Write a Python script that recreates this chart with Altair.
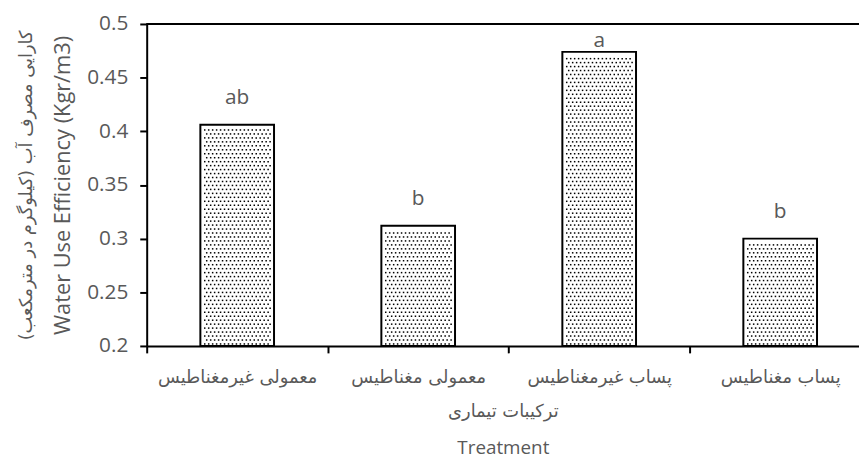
import json
import altair as alt
import pandas as pd

treatments = ["معمولی غیرمغناطیس", "معمولی مغناطیس", "پساب غیرمغناطیس", "پساب مغناطیس"]
wue = [0.406, 0.312, 0.474, 0.300]
letters = ["ab", "b", "a", "b"]
y_ticks = [0.2, 0.25, 0.3, 0.35, 0.4, 0.45, 0.5]
y_title_en = "Water Use Efficiency (Kgr/m3)"
y_title_fa = "کارایی مصرف آب (کیلوگرم در مترمکعب)\u200f"
x_title_fa = "ترکیبات تیماری"
x_title_en = "Treatment"

idx = list(range(len(treatments)))
df = pd.DataFrame({"i": idx, "t": treatments, "v": wue, "g": letters})

GRAY = "#595959"
W, H = 719, 325
STEP = 182.7                      # pixel width of one category slot
HALF = 0.2035                     # half bar width, in slots
xscale = alt.Scale(domain=[0, W / STEP], nice=False, zero=False)
yscale = alt.Scale(domain=[0.2, 0.5], nice=False, zero=False)
label_expr = json.dumps(treatments, ensure_ascii=False) + "[floor(datum.value)]"

base = alt.Chart(df).transform_calculate(
    xc="datum.i + 0.5",
    x1=f"datum.i + 0.5 - {HALF}",
    x2=f"datum.i + 0.5 + {HALF}",
    base="0.2",
)

x_main = alt.X(
    "x1:Q",
    scale=xscale,
    axis=alt.Axis(
        values=[i + 0.5 for i in idx],
        labelExpr=label_expr,
        title=x_title_fa,
        ticks=False,
        grid=False,
        labelAngle=0,
        labelFont="DejaVu Sans",
        labelFontSize=18,
        labelColor=GRAY,
        labelPadding=23,
        domainColor="black",
        domainWidth=2,
        titleFont="DejaVu Sans",
        titleFontSize=18,
        titleFontWeight="normal",
        titleColor=GRAY,
        titlePadding=16,
    ),
)
y_main = alt.Y(
    "v:Q",
    scale=yscale,
    axis=alt.Axis(
        values=y_ticks,
        format="~g",
        grid=False,
        title=y_title_en,
        labelFont="Open Sans",
        labelFontSize=21,
        labelColor=GRAY,
        labelPadding=12,
        tickColor="black",
        tickSize=7,
        tickWidth=2,
        domainColor="black",
        domainWidth=2,
        titleFont="Open Sans",
        titleFontSize=22,
        titleFontWeight="normal",
        titleColor=GRAY,
        titlePadding=12,
    ),
)

bars = base.mark_bar(fill="white", stroke="black", strokeWidth=2).encode(
    x=x_main, x2="x2:Q", y=y_main, y2="base:Q"
)

# dotted texture inside the bars (like the reference's pattern fill)
DX = 4 / STEP
DY = 4 / (H / 0.3)
NCOL = 17
dots = (
    base.transform_calculate(row=f"sequence(0, floor((datum.v - 0.2 - 0.002) / {DY}))")
    .transform_flatten(["row"])
    .transform_calculate(col=f"sequence(0, {NCOL})")
    .transform_flatten(["col"])
    .transform_calculate(
        dx=f"datum.x1 + {1.1 * DX} + datum.col * {DX} + (datum.row % 2) * {DX / 2}",
        dyv=f"0.2 + {DY / 2} + datum.row * {DY}",
    )
    .mark_square(size=2.3, color="black", opacity=1, strokeWidth=0)
    .encode(
        x=alt.X("dx:Q", scale=xscale, axis=None),
        y=alt.Y("dyv:Q", scale=yscale, axis=None),
    )
)

x_second = alt.X(
    "xc:Q",
    scale=xscale,
    axis=alt.Axis(
        orient="bottom",
        values=idx,
        title=x_title_en,
        labels=False,
        ticks=True,
        tickColor="black",
        tickSize=7,
        tickWidth=2,
        domain=False,
        grid=False,
        titleFont="Open Sans",
        titleFontSize=19,
        titleFontWeight="normal",
        titleColor=GRAY,
        titlePadding=86,
    ),
)
y_second = alt.Y(
    "ly:Q",
    scale=yscale,
    axis=alt.Axis(
        orient="left",
        title=y_title_fa,
        labels=False,
        ticks=False,
        domain=False,
        grid=False,
        titleFont="DejaVu Sans",
        titleFontSize=18,
        titleFontWeight="normal",
        titleColor=GRAY,
        titlePadding=112,
    ),
)

text = (
    base.transform_calculate(ly="min(datum.v + 0.019, 0.479)")
    .mark_text(font="Open Sans", fontSize=21, color=GRAY, baseline="alphabetic")
    .encode(x=x_second, y=y_second, text="g:N")
)
top = alt.Chart(df).mark_rule(color="black", strokeWidth=2).encode(
    y=alt.YDatum(0.5, scale=yscale, axis=None)
)

chart = (
    alt.layer(bars, dots, text, top)
    .resolve_axis(x="independent", y="independent")
    .properties(
        width=W,
        height=H,
        autosize=alt.AutoSizeParams(type="none"),
        padding={"left": 140, "top": 14, "right": 0, "bottom": 112},
    )
    .configure_view(stroke=None)
    .configure(background="white")
)

chart.save("out.html", embed_options={"renderer": "svg", "actions": False})
